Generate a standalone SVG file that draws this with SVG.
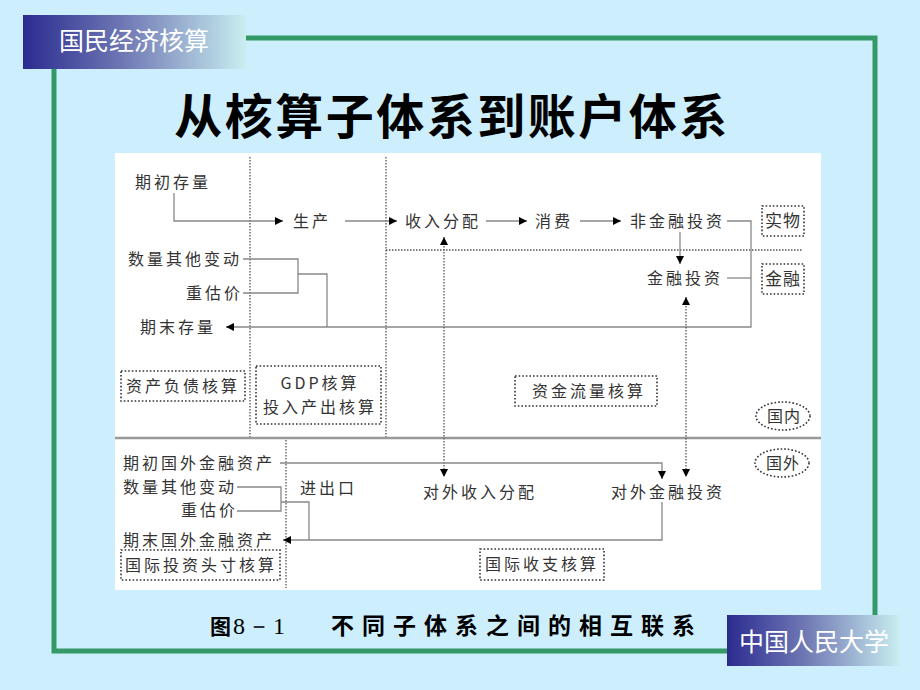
<svg xmlns="http://www.w3.org/2000/svg" width="920" height="690" viewBox="0 0 920 690">
<defs>
<linearGradient id="hdr" x1="0" y1="0" x2="1" y2="0">
<stop offset="0" stop-color="#2b2b8f"/>
<stop offset="0.45" stop-color="#6f78b4"/>
<stop offset="1" stop-color="#c9eef0"/>
</linearGradient>
<marker id="ah" viewBox="0 0 10 10" refX="10" refY="5" markerWidth="9" markerHeight="8" markerUnits="userSpaceOnUse" orient="auto-start-reverse">
<path d="M0,0 L10,5 L0,10 Z" fill="#000"/>
</marker>
<style>
.t{font-family:"Noto Sans CJK SC","Liberation Serif",serif;font-size:16px;fill:#333;letter-spacing:3px}
.ln{fill:none;stroke:#888;stroke-width:1.3}
.dl{fill:none;stroke:#555;stroke-width:1.3;stroke-dasharray:1.5 1.5}
.bx{fill:none;stroke:#333;stroke-width:1.6;stroke-dasharray:1.6 2}
.fr{fill:none;stroke:#339966;stroke-width:5}
</style>
</defs>
<rect x="0" y="0" width="920" height="690" fill="#cdeefc"/>
<!-- frame -->
<path class="fr" d="M246,38 H875 V615"/>
<path class="fr" d="M54,68 V651 H727"/>
<g id="header">
<rect x="23" y="15" width="223" height="54" fill="url(#hdr)"/>
<text x="59" y="50" font-family="Noto Sans CJK SC, sans-serif" font-size="25" fill="#fff">国民经济核算</text>
</g>
<g id="footer">
<rect x="727" y="615" width="173" height="51" fill="url(#hdr)"/>
<text x="739" y="651" font-family="Noto Sans CJK SC, sans-serif" font-size="25" fill="#fff">中国人民大学</text>
</g>
<text id="title" x="452" y="134" text-anchor="middle" font-family="Noto Sans CJK SC, sans-serif" font-size="48" font-weight="bold" fill="#000" letter-spacing="2.5">从核算子体系到账户体系</text>
<!-- diagram area -->
<rect x="115" y="153" width="706" height="437" fill="#fff"/>
<g id="grid">
<path class="dl" d="M250,157 V437 M386,157 V437 M286,440 V588 M386,250 H802"/>
<path d="M115,438 H821" stroke="#999" stroke-width="2.5"/>
</g>
<g id="connectors">
<path class="ln" d="M174,193 V221 H283" marker-end="url(#ah)"/>
<path class="ln" d="M345,221 H397" marker-end="url(#ah)"/>
<path class="ln" d="M486,221 H527" marker-end="url(#ah)"/>
<path class="ln" d="M580,221 H621" marker-end="url(#ah)"/>
<path class="ln" d="M727,221 H751 V327 H226" marker-end="url(#ah)"/>
<path class="ln" d="M680,232 V264" marker-end="url(#ah)"/>
<path class="ln" d="M727,278 H751"/>
<path class="ln" d="M243,259 H298 V293 H243 M298,274 H327 V327"/>
<path class="dl" d="M444,237 V477" marker-start="url(#ah)" marker-end="url(#ah)"/>
<path class="dl" d="M686,297 V477" marker-start="url(#ah)" marker-end="url(#ah)"/>
<path class="ln" d="M280,463 H662 V479" marker-end="url(#ah)"/>
<path class="ln" d="M237,487 H281 V511 H237 M281,502 H309 V540"/>
<path class="ln" d="M662,502 V540 H283" marker-end="url(#ah)"/>
</g>
<g id="n-qichu"><text class="t" x="135" y="188">期初存量</text></g>
<g id="n-shengchan"><text class="t" x="293" y="227">生产</text></g>
<g id="n-shouru"><text class="t" x="405" y="227">收入分配</text></g>
<g id="n-xiaofei"><text class="t" x="535" y="227">消费</text></g>
<g id="n-feijinrong"><text class="t" x="630" y="227">非金融投资</text></g>
<g id="n-jinrong"><text class="t" x="647" y="284">金融投资</text></g>
<g id="n-shiwu"><rect class="bx" x="762" y="206" width="42" height="30"/><text class="t" x="765" y="227" style="letter-spacing:1px;font-size:17px">实物</text></g>
<g id="n-jinrongtag"><rect class="bx" x="762" y="264" width="42" height="30"/><text class="t" x="765" y="285" style="letter-spacing:1px;font-size:17px">金融</text></g>
<g id="n-shuliang"><text class="t" x="128" y="265">数量其他变动</text></g>
<g id="n-chonggu"><text class="t" x="186" y="299">重估价</text></g>
<g id="n-qimo"><text class="t" x="140" y="333">期末存量</text></g>
<g id="n-zichan"><rect class="bx" x="121" y="371" width="124" height="30"/><text class="t" x="126" y="392">资产负债核算</text></g>
<g id="n-gdp"><rect class="bx" x="256" y="366" width="125" height="58"/><text class="t" x="320" y="389" text-anchor="middle">GDP核算</text><text class="t" x="320" y="413" text-anchor="middle">投入产出核算</text></g>
<g id="n-zijin"><rect class="bx" x="515" y="376" width="142" height="30"/><text class="t" x="589" y="397" text-anchor="middle">资金流量核算</text></g>
<g id="n-guonei"><ellipse class="bx" cx="783" cy="416" rx="27" ry="14"/><text class="t" x="784" y="422" text-anchor="middle" style="letter-spacing:1px">国内</text></g>
<g id="n-guowai"><ellipse class="bx" cx="782" cy="463" rx="27" ry="14"/><text class="t" x="783" y="469" text-anchor="middle" style="letter-spacing:1px">国外</text></g>
<g id="n-qichuguowai"><text class="t" x="123" y="469">期初国外金融资产</text></g>
<g id="n-shuliang2"><text class="t" x="123" y="493">数量其他变动</text></g>
<g id="n-chonggu2"><text class="t" x="181" y="516">重估价</text></g>
<g id="n-qimoguowai"><text class="t" x="123" y="546">期末国外金融资产</text></g>
<g id="n-jinchukou"><text class="t" x="300" y="494">进出口</text></g>
<g id="n-duiwaishouru"><text class="t" x="423" y="498">对外收入分配</text></g>
<g id="n-duiwaijinrong"><text class="t" x="611" y="498">对外金融投资</text></g>
<g id="n-touzi"><rect class="bx" x="121" y="550" width="159" height="30"/><text class="t" x="125" y="571">国际投资头寸核算</text></g>
<g id="n-shouzhi"><rect class="bx" x="480" y="549" width="124" height="31"/><text class="t" x="485" y="570">国际收支核算</text></g>
<g id="caption">
<text x="210" y="634" font-family="Noto Sans CJK SC, sans-serif" font-size="21" font-weight="bold" fill="#000">图</text>
<text x="233" y="634" font-family="Liberation Serif, serif" font-size="24" fill="#000" letter-spacing="2">8－1</text>
<text x="331" y="634" font-family="Noto Sans CJK SC, sans-serif" font-size="23" font-weight="bold" fill="#000" letter-spacing="8">不同子体系之间的相互联系</text>
</g>
</svg>
